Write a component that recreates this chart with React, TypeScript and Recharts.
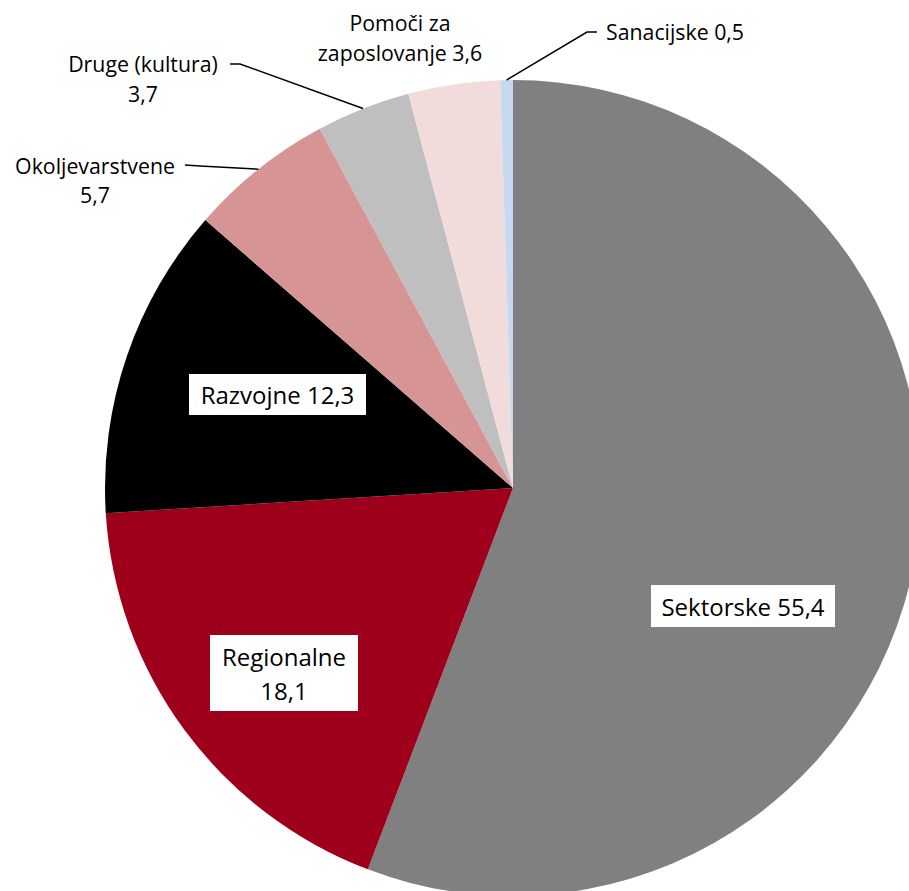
import React from 'react';
import { PieChart, Pie, Cell } from 'recharts';

const CATEGORIES = ['Sektorske', 'Regionalne', 'Razvojne', 'Okoljevarstvene', 'Druge (kultura)', 'Pomoči za\nzaposlovanje', 'Sanacijske'];
const VALUES = [55.4, 18.1, 12.3, 5.7, 3.7, 3.6, 0.5];
const COLORS = ['#808080', '#9e001c', '#000000', '#d69594', '#bfbfbf', '#f2dcdb', '#c6d9f1'];

const data = CATEGORIES.map((name, i) => ({ name, value: VALUES[i] }));

const fmt = (v: number) => v.toFixed(1).replace('.', ',');

const CX = 513;
const CY = 488;
const R = 408;
const RAD = Math.PI / 180;

type Layout = {
  dx: number; dy: number; valueNewLine: boolean; size: number; lh: number;
  box?: [number, number]; leader?: [number, number][];
};

const LAYOUT: Layout[] = [
  { dx: 230, dy: 118, valueNewLine: false, size: 24, lh: 0, box: [184, 42] },
  { dx: -229, dy: 185, valueNewLine: true, size: 24, lh: 34, box: [148, 76] },
  { dx: -235.5, dy: -93.5, valueNewLine: false, size: 24, lh: 0, box: [177, 41] },
  { dx: -418, dy: -308.5, valueNewLine: true, size: 21.3, lh: 29, leader: [[-313, -322], [-328, -323]] },
  { dx: -370, dy: -410, valueNewLine: true, size: 21.3, lh: 30, leader: [[-273, -424], [-283, -424]] },
  { dx: -113, dy: -451, valueNewLine: false, size: 21.3, lh: 30 },
  { dx: 162, dy: -457, valueNewLine: false, size: 21.3, lh: 0, leader: [[74, -456], [84, -456]] },
];

const renderLabel = (props: any) => {
  const { cx, cy, midAngle, outerRadius, index, name, value } = props;
  const L = LAYOUT[index];
  const lines = (name + (L.valueNewLine ? '\n' : ' ') + fmt(value)).split('\n');
  const tx = cx + L.dx;
  const ty = cy + L.dy;
  const n = lines.length;
  const ex = cx + outerRadius * Math.cos(-midAngle * RAD);
  const ey = cy + outerRadius * Math.sin(-midAngle * RAD);
  return (
    <g key={`lbl-${index}`}>
      {L.leader && (
        <polyline
          points={[[ex, ey], ...L.leader.map(([a, b]) => [cx + a, cy + b])].map((p) => p.join(',')).join(' ')}
          fill="none"
          stroke="#000"
          strokeWidth={1.5}
        />
      )}
      {L.box && (
        <rect x={tx - L.box[0] / 2} y={ty - L.box[1] / 2} width={L.box[0]} height={L.box[1]} fill="#fff" />
      )}
      {lines.map((t, i) => (
        <text
          key={i}
          x={tx}
          y={ty + (i - (n - 1) / 2) * L.lh}
          textAnchor="middle"
          dominantBaseline="central"
          fontSize={L.size}
          fontFamily="'Open Sans', sans-serif"
          fill="#000"
        >
          {t}
        </text>
      ))}
    </g>
  );
};

export default function App() {
  return (
    <div style={{ position: 'absolute', left: 0, top: 0, width: 909, height: 891, background: '#fff' }}>
      <PieChart width={909} height={891} margin={{ top: 0, right: 0, bottom: 0, left: 0 }}>
        <Pie
          data={data}
          dataKey="value"
          nameKey="name"
          cx={CX}
          cy={CY}
          outerRadius={R}
          startAngle={90}
          endAngle={-270}
          stroke="none"
          labelLine={false}
          label={renderLabel}
          isAnimationActive={false}
        >
          {data.map((d, i) => (
            <Cell key={d.name} fill={COLORS[i]} />
          ))}
        </Pie>
      </PieChart>
    </div>
  );
}
